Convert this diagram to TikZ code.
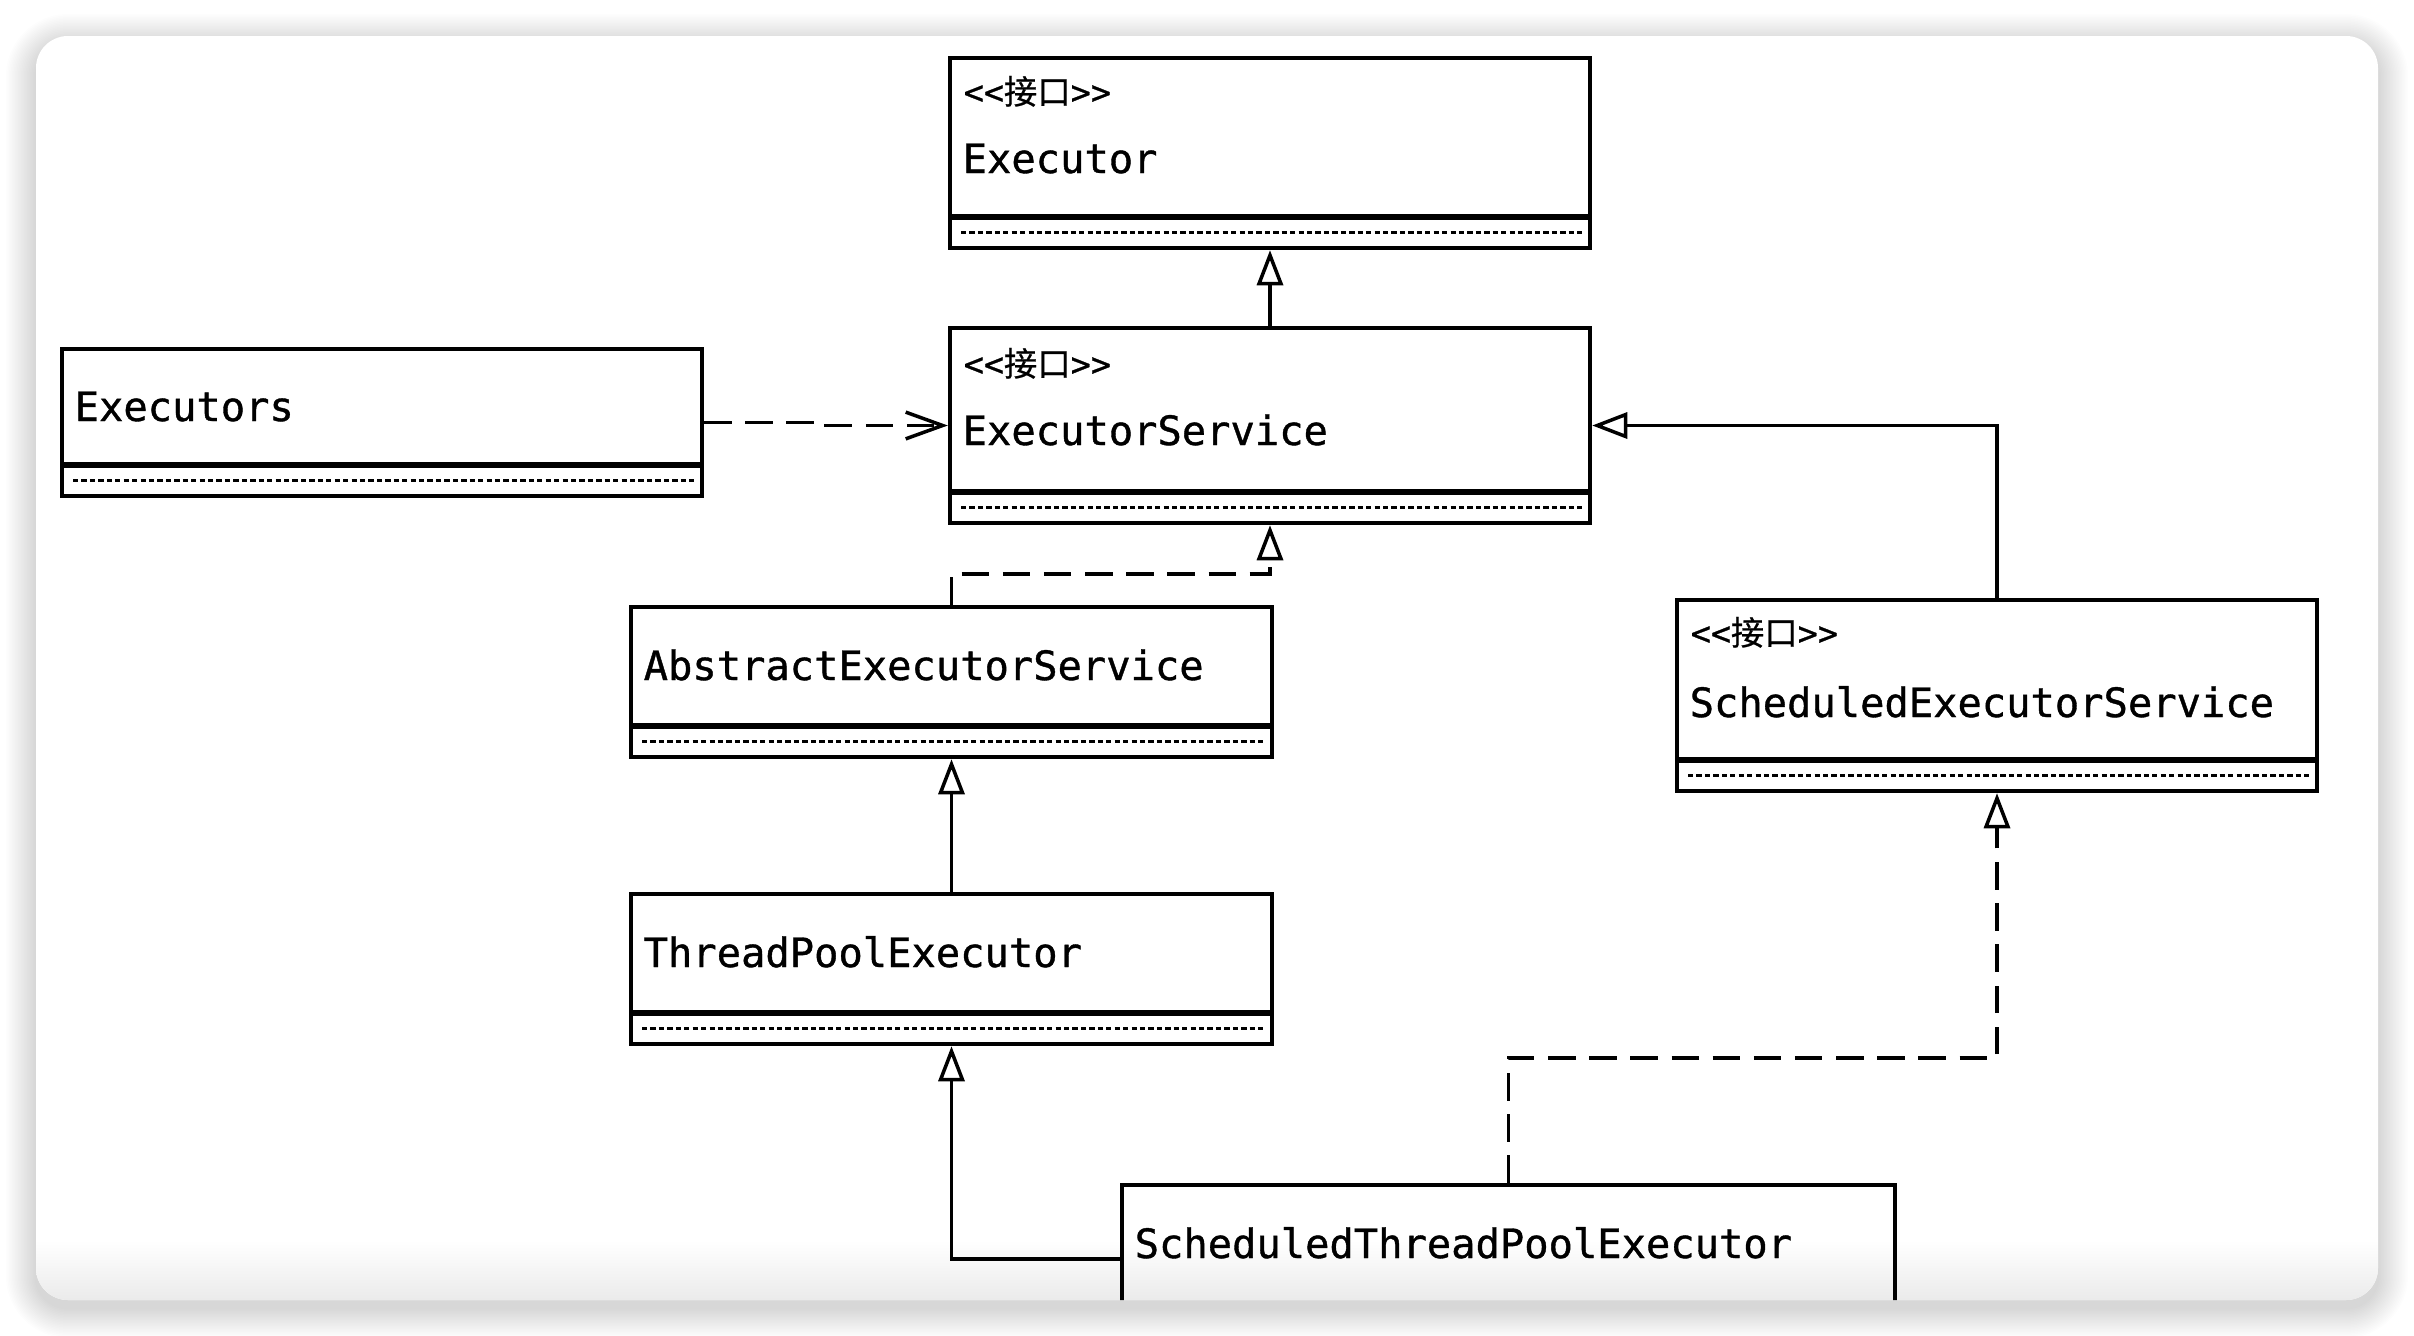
\documentclass[tikz,border=0pt]{standalone}
\usepackage{fontspec}
\newfontfamily\monof{DejaVu Sans Mono}[FakeBold=0.9]
\newfontfamily\cjkf{Noto Sans CJK SC}[FakeBold=0.6]
\usetikzlibrary{arrows.meta,fit,calc}

\tikzset{
  umlbox/.style={draw=black, line width=1.25pt, rectangle, inner sep=0pt},
  divline/.style={line width=1.7pt},
  attrdash/.style={line width=1.05pt, dash pattern=on 1.5pt off 0.9pt},
  nametext/.style={anchor=base west, inner sep=0pt, font=\monof\fontsize{11.5pt}{13pt}\selectfont},
  stereotext/.style={anchor=base west, inner sep=0pt, font=\fontsize{9.5pt}{11pt}\selectfont},
  inherit/.style={line width=1pt, -{Triangle[open, length=10pt, width=7.4pt, line width=1pt]}},
  realize/.style={inherit, dash pattern=on 7.8pt off 3.9pt},
  depend/.style={line width=1pt, dash pattern=on 7.8pt off 3.9pt, -{Straight Barb[length=10.5pt, width=7.6pt, line width=1pt]}},
}

% name, x1, y1, x2, y2, ydiv
\newcommand\umlcls[6]{%
  \node[umlbox, fit={(#2,#3) (#4,#5)}] (#1) {};
  \draw[divline] (#2,#6) -- (#4,#6);
  \draw[attrdash] (#2+11,{(#6+#5)/2}) -- (#4-8,{(#6+#5)/2});
}
\newcommand\stereo{{\monof<\kern0pt<}{\cjkf 接口}{\monof>\kern0pt>}}

\begin{document}
\begin{tikzpicture}[x=0.01cm, y=-0.01cm]
\useasboundingbox (0,0) rectangle (2414,1336);

% card shadow
\foreach \i in {1,...,20}{
  \pgfmathsetmacro\rr{0.32+0.015*\i}
  \fill[black, opacity=0.009, rounded corners=\rr cm]
    (36-1.5*\i, 44-1.5*\i) rectangle (2378+1.5*\i, 1308+1.5*\i);
}
% card
\fill[white, rounded corners=0.32cm] (36,36) rectangle (2378,1300);

\begin{scope}
\clip[rounded corners=0.32cm] (36,36) rectangle (2378,1300);
\shade[top color=white, bottom color=black!8] (36,1240) rectangle (2378,1300);

\umlcls{exec}{950}{58}{1590}{248}{217}
\umlcls{es}{950}{328}{1590}{523}{492}
\umlcls{exs}{62}{349}{702}{496}{465}
\umlcls{aes}{631}{607}{1272}{757}{726}
\umlcls{tpe}{631}{894}{1272}{1044}{1013}
\umlcls{ses}{1677}{600}{2317}{791}{760}
\node[umlbox, fit={(1122,1185) (1895,1333)}] (stpe) {};

\node[stereotext] (exec-st) at (963,104) {\stereo};
\node[nametext] (exec-nm) at (962,173) {Executor};
\node[stereotext] (es-st) at (963,376) {\stereo};
\node[nametext] (es-nm) at (962,445) {ExecutorService};
\node[nametext] (exs-nm) at (74,421) {Executors};
\node[nametext] (aes-nm) at (643,680) {AbstractExecutorService};
\node[nametext] (tpe-nm) at (643,967) {ThreadPoolExecutor};
\node[stereotext] (ses-st) at (1690,645) {\stereo};
\node[nametext] (ses-nm) at (1689,717) {ScheduledExecutorService};
\node[nametext] (stpe-nm) at (1134,1258) {ScheduledThreadPoolExecutor};

% connectors
\draw[inherit] (es.north) -- (exec.south);
\coordinate (jog) at ($(exs.east)!0.5!(es.west)$);
\draw[depend] (exs.east) -| (jog) |- (es.west);
\draw[realize] (aes.north) -- ++(0,-31) -| (es.south);
\draw[inherit] (tpe.north) -- (aes.south);
\draw[inherit] (stpe.west) -| (tpe.south);
\draw[realize] (stpe.north) -- ++(0,-125) -| (ses.south);
\draw[inherit] (ses.north) |- (es.east);
\end{scope}
\end{tikzpicture}
\end{document}
